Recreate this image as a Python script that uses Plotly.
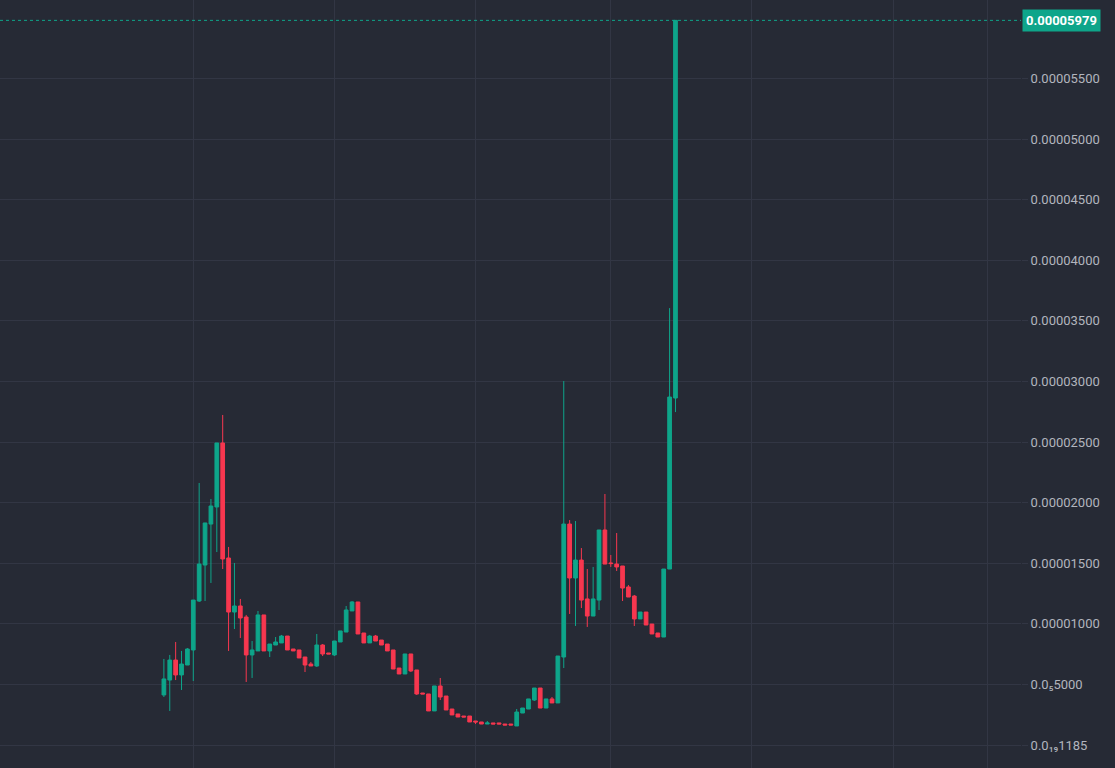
import plotly.graph_objects as go

# Candle index (one per period)
idx = list(range(88))

# Prices in units of 1e-6
open_u = [4.13, 5.36, 7.01, 5.78, 6.60, 7.84, 11.88, 14.85, 18.23, 19.64,
          24.92, 15.43, 10.97, 11.47, 10.56, 7.43, 7.76, 10.73, 7.76, 8.25,
          8.42, 8.99, 7.92, 7.84, 7.26, 6.68, 6.52, 8.25, 7.59, 7.43,
          8.50, 9.32, 11.06, 11.80, 9.24, 8.42, 8.99, 8.66, 8.33, 7.84,
          6.35, 5.86, 7.51, 6.19, 4.29, 4.21, 2.81, 4.87, 4.04, 2.97,
          2.56, 2.39, 2.39, 1.98, 1.90, 1.73, 1.82, 1.82, 1.73, 1.73,
          1.57, 2.64, 2.97, 3.71, 4.70, 3.05, 3.80, 3.47, 7.26, 18.23,
          13.78, 15.26, 12.05, 10.64, 11.96, 17.74, 15.02, 14.93, 14.77, 13.04,
          12.29, 10.40, 10.97, 9.98, 9.24, 8.91, 14.52, 28.63]
high_u = [7.10, 7.43, 8.50, 7.76, 8.00, 11.96, 21.62, 18.32, 20.30, 24.92,
          27.23, 16.34, 15.02, 12.05, 10.73, 8.58, 11.06, 10.73, 8.33, 8.91,
          9.08, 8.99, 7.92, 7.84, 7.26, 6.85, 9.16, 8.33, 7.59, 8.58,
          9.41, 11.47, 11.88, 11.80, 9.24, 9.08, 9.08, 8.66, 8.33, 7.84,
          6.35, 7.51, 7.51, 6.19, 4.29, 4.21, 4.87, 5.53, 4.04, 2.97,
          2.56, 2.39, 2.39, 1.98, 1.90, 1.98, 1.82, 1.82, 1.73, 1.73,
          2.97, 3.05, 3.80, 4.70, 4.70, 3.80, 3.96, 7.34, 30.03, 18.56,
          18.48, 16.25, 14.52, 14.69, 17.74, 20.71, 15.68, 17.49, 14.77, 13.20,
          12.38, 10.97, 10.97, 9.98, 9.24, 14.52, 36.05, 59.79]
low_u = [3.96, 2.81, 5.36, 4.54, 6.60, 5.28, 11.80, 11.88, 13.37, 15.92,
         14.52, 7.76, 9.57, 8.83, 5.20, 5.53, 7.76, 7.76, 7.26, 8.25,
         8.42, 7.84, 7.76, 7.18, 6.02, 6.52, 6.44, 7.34, 7.51, 7.34,
         8.50, 9.32, 11.06, 9.16, 8.42, 8.42, 8.58, 8.25, 7.76, 6.27,
         5.86, 5.86, 6.02, 4.13, 4.21, 2.81, 2.81, 3.71, 2.89, 2.48,
         2.31, 2.31, 1.90, 1.73, 1.73, 1.73, 1.73, 1.73, 1.65, 1.65,
         1.57, 2.64, 2.97, 3.63, 3.05, 3.05, 3.47, 3.47, 6.35, 10.81,
         9.82, 11.30, 9.74, 10.64, 11.14, 14.93, 14.69, 14.36, 11.88, 12.21,
         9.82, 10.40, 9.90, 9.16, 8.91, 8.91, 14.52, 27.47]
close_u = [5.45, 7.01, 5.78, 6.68, 7.92, 11.96, 14.93, 18.32, 19.72, 24.92,
           15.35, 10.97, 11.47, 10.48, 7.43, 7.84, 10.73, 7.76, 8.33, 8.50,
           8.99, 7.84, 7.76, 7.18, 6.60, 6.52, 8.25, 7.51, 7.51, 8.58,
           9.41, 11.14, 11.80, 9.16, 8.42, 8.99, 8.58, 8.25, 7.76, 6.27,
           5.86, 7.51, 6.11, 4.21, 4.21, 2.81, 4.87, 3.96, 2.89, 2.48,
           2.31, 2.31, 1.90, 1.90, 1.73, 1.82, 1.73, 1.73, 1.65, 1.65,
           2.72, 3.05, 3.80, 4.70, 3.05, 3.80, 3.47, 7.34, 18.23, 13.78,
           15.26, 11.96, 10.64, 12.05, 17.74, 14.93, 14.97, 14.69, 12.95, 12.21,
           10.40, 10.97, 9.90, 9.16, 8.91, 14.52, 28.71, 59.79]
UNIT = 1e-6

last_price = 0.00005979
last_label = "0.00005979"

y_tickvals = [0, 0.000005, 0.00001, 0.000015, 0.00002, 0.000025, 0.00003,
              0.000035, 0.00004, 0.000045, 0.00005, 0.000055]
y_ticktext = ["0.0\u2081\u20891185", "0.0\u20855000", "0.00001000", "0.00001500",
              "0.00002000", "0.00002500", "0.00003000", "0.00003500",
              "0.00004000", "0.00004500", "0.00005000", "0.00005500"]
x_gridvals = [5, 29, 53, 76, 100, 124, 140]

UP = "#0ea58a"
DOWN = "#f7374f"
BG = "#262a35"
GRID = "#323644"
FONT = "Roboto"

fig = go.Figure(go.Candlestick(
    x=idx,
    open=[v * UNIT for v in open_u],
    high=[v * UNIT for v in high_u],
    low=[v * UNIT for v in low_u],
    close=[v * UNIT for v in close_u],
    increasing=dict(line=dict(color=UP, width=1), fillcolor=UP),
    decreasing=dict(line=dict(color=DOWN, width=1), fillcolor=DOWN),
    whiskerwidth=0,
    showlegend=False,
))

fig.add_shape(type="line", xref="paper", x0=0, x1=1, yref="y",
              y0=last_price, y1=last_price,
              line=dict(color=UP, width=1, dash="dot"))

fig.add_annotation(xref="paper", x=1, xanchor="left", xshift=1,
                   yref="y", y=last_price, yanchor="middle",
                   text="<b>" + last_label + "</b>", showarrow=False,
                   bgcolor=UP, borderpad=3,
                   font=dict(color="white", size=13, family=FONT))

fig.update_layout(
    width=1115, height=768,
    margin=dict(l=0, r=94, t=0, b=0),
    paper_bgcolor=BG, plot_bgcolor=BG,
    boxgap=0.1,
    font=dict(family=FONT, size=13, color="#b2b5be"),
    xaxis=dict(range=[-27.87, 145.76], rangeslider=dict(visible=False),
               tickvals=x_gridvals, showticklabels=False,
               showgrid=True, gridcolor=GRID, gridwidth=1,
               zeroline=False, showline=False, ticks=""),
    yaxis=dict(side="right", range=[-0.000001898, 0.00006147],
               tickvals=y_tickvals, ticktext=y_ticktext,
               showgrid=True, gridcolor=GRID, gridwidth=1,
               zeroline=False, showline=False,
               ticks="outside", ticklen=6, tickcolor=GRID,
               tickfont=dict(size=13, color="#b2b5be", family=FONT)),
)

fig.write_html("out.html",
               config={"displayModeBar": False},
               post_script="document.body.style.margin='0';document.body.style.background='%s';" % BG)
